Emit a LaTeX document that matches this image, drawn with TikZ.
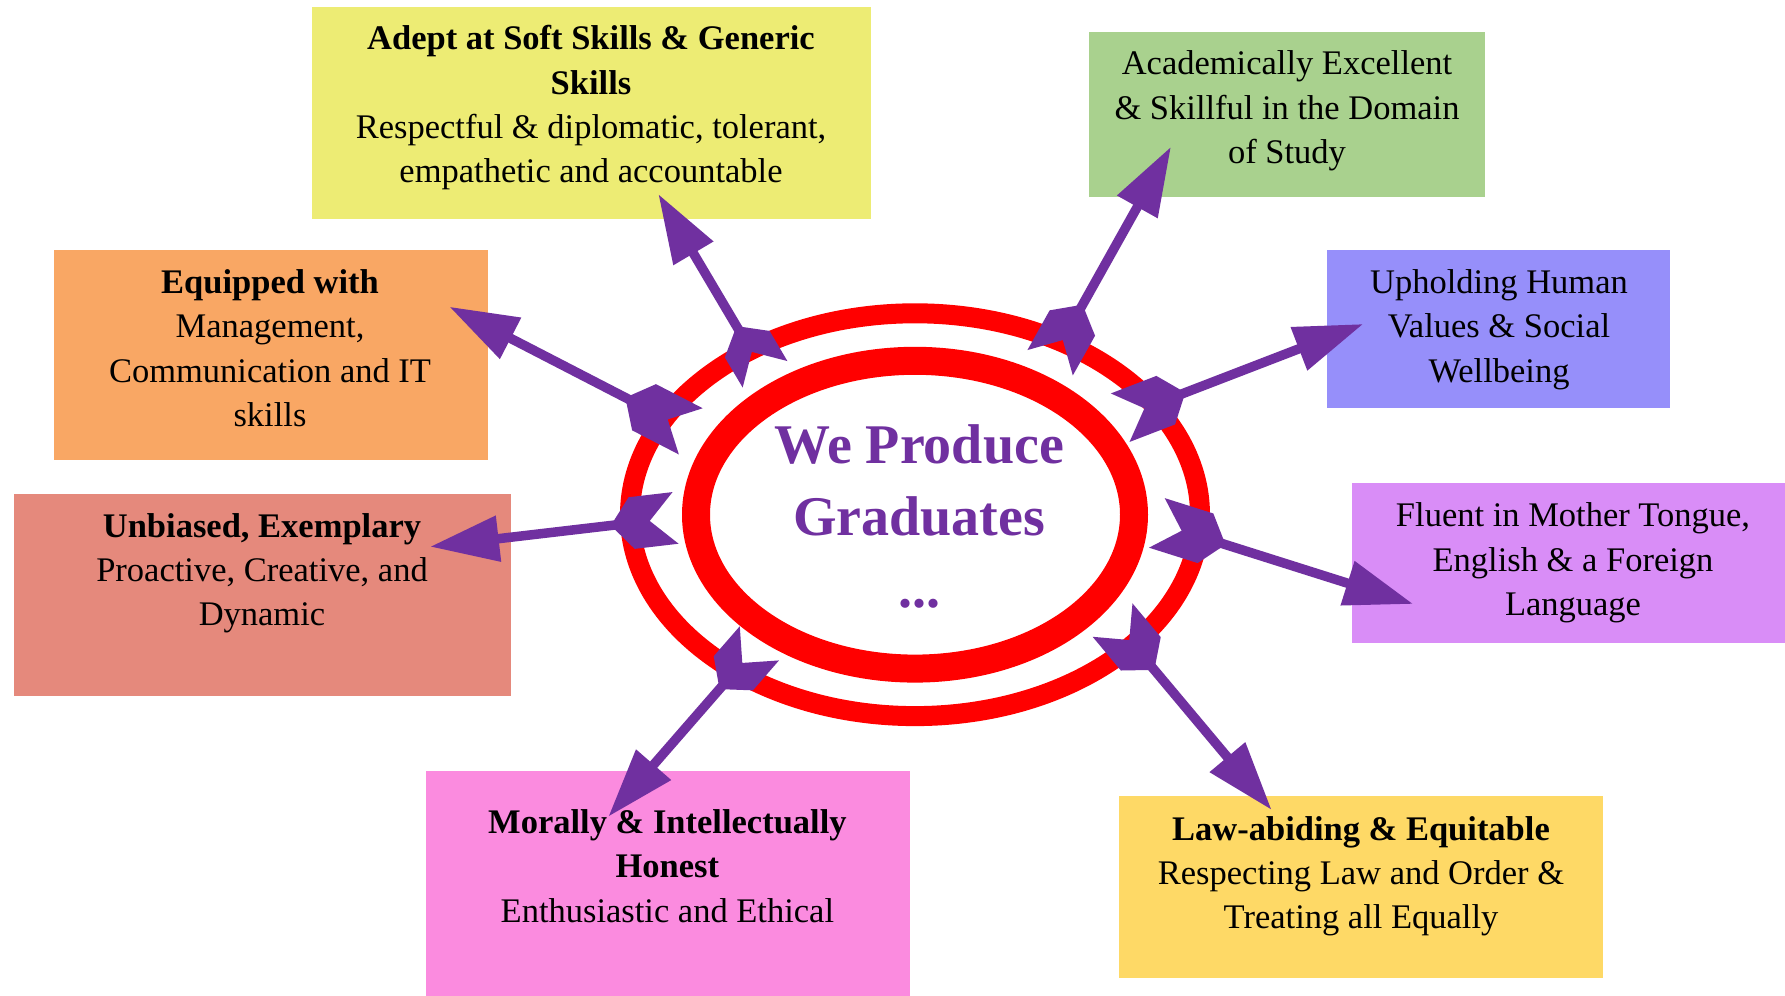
\documentclass[tikz,border=0pt]{standalone}
\usepackage{fontspec}
\setmainfont{Liberation Serif}
\usetikzlibrary{arrows.meta,calc,shapes.geometric}
\definecolor{arrowcol}{HTML}{7030A0}
\definecolor{ringred}{HTML}{FF0000}
\definecolor{cyellow}{HTML}{EDEC74}
\definecolor{cgreen}{HTML}{A9D18E}
\definecolor{corange}{HTML}{F9A764}
\definecolor{cblue}{HTML}{968FFA}
\definecolor{csalmon}{HTML}{E5897C}
\definecolor{cviolet}{HTML}{D98DF7}
\definecolor{cpink}{HTML}{FB8BDF}
\definecolor{cgold}{HTML}{FED966}
\newcommand\blines[1]{\begin{tabular}[t]{@{}c@{}}#1\end{tabular}}
\begin{document}
\begin{tikzpicture}[x=0.5pt,y=-0.5pt,
  box/.style={rectangle, inner sep=0pt, draw=none},
  txt/.style={inner sep=0pt, anchor=base, font=\fontsize{17.25pt}{22.2pt}\selectfont},
  ctxt/.style={inner sep=0pt, anchor=base, text=arrowcol, font=\fontsize{28pt}{36pt}\selectfont\bfseries},
  ring/.style={ellipse, draw=ringred, inner sep=0pt},
  conn/.style={draw=arrowcol, line width=4.75pt, shorten <=-6pt, -{Triangle[length=34.5pt,width=22pt]}},
  tailhead/.pic={\fill[arrowcol] (0,0) -- (21,26) -- ({21+#1},26) -- ({#1-5},0) -- ({21+#1},-26) -- (21,-26) -- cycle;}
]
\useasboundingbox (0,0) rectangle (1785,996);
\fill[white] (0,0) rectangle (1785,996);

% boxes
\node[box, fill=cyellow, minimum width=279.65pt, minimum height=106.25pt] (bsoft) at (591.65,113.05) {};
\node[box, fill=cgreen,  minimum width=198.1pt,  minimum height=82.7pt]   (bacad) at (1287.1,114.6) {};
\node[box, fill=corange, minimum width=217.4pt,  minimum height=105.05pt] (bequip) at (270.9,355.05) {};
\node[box, fill=cblue,   minimum width=171.5pt,  minimum height=79.15pt]  (bhuman) at (1498.2,329.15) {};
\node[box, fill=csalmon, minimum width=248.65pt, minimum height=100.85pt] (bunb) at (262.35,594.85) {};
\node[box, fill=cviolet, minimum width=216.35pt, minimum height=79.9pt]   (bfluent) at (1568.65,562.8) {};
\node[box, fill=cpink,   minimum width=242pt,    minimum height=112.5pt]  (bmoral) at (668,883.5) {};
\node[box, fill=cgold,   minimum width=241.6pt,  minimum height=91.2pt]   (blaw) at (1360.9,887.2) {};

% box texts
\node[txt] (tsoft) at (591,49.6) {\blines{\textbf{Adept at Soft Skills \& Generic}\\ \textbf{Skills}\\ Respectful \& diplomatic, tolerant,\\ empathetic and accountable}};
\node[txt] (tacad) at (1287,74.6) {\blines{Academically Excellent\\ \& Skillful in the Domain\\ of Study}};
\node[txt] (tequip) at (270,293.3) {\blines{\textbf{Equipped with}\\ Management,\\ Communication and IT\\ skills}};
\node[txt] (thuman) at (1499,293.3) {\blines{Upholding Human\\ Values \& Social\\ Wellbeing}};
\node[txt] (tunb) at (262,537) {\blines{\textbf{Unbiased, Exemplary}\\ Proactive, Creative, and\\ Dynamic}};
\node[txt] (tfluent) at (1573,526.8) {\blines{Fluent in Mother Tongue,\\ English \& a Foreign\\ Language}};
\node[txt] (tmoral) at (667.4,833.2) {\blines{\textbf{Morally \& Intellectually}\\ \textbf{Honest}\\ Enthusiastic and Ethical}};
\node[txt] (tlaw) at (1361,840) {\blines{\textbf{Law-abiding \& Equitable}\\ Respecting Law and Order \&\\ Treating all Equally}};

% central double ellipse
\node[ring, line width=10pt, minimum width=285pt, minimum height=201.4pt] (outer) at (915,514.7) {};
\node[ring, line width=14pt, minimum width=219pt, minimum height=153.9pt] (inner) at (915,514.7) {};
\node[ctxt] (ctext) at (919,463) {\blines{We Produce\\ Graduates\\ ...}};

% connector end points
\coordinate (b1) at (736.5,326.1);  \coordinate (t1) at (658.3,194);
\coordinate (b2) at (1082.6,304.7); \coordinate (t2) at (1171,146.7);
\coordinate (b3) at (625.4,397.6);  \coordinate (t3) at (449.3,306.7);
\coordinate (b4) at (1185.3,392.6); \coordinate (t4) at (1363.3,324);
\coordinate (b5) at (610.8,525.5);  \coordinate (t5) at (430,546.7);
\coordinate (b6) at (1225.5,544.6); \coordinate (t6) at (1413.3,604);
\coordinate (b7) at (719.5,689.1);  \coordinate (t7) at (608.3,816.7);
\coordinate (b8) at (1154.3,669.9); \coordinate (t8) at (1271.7,810);

\foreach \aaa/\bbb/\ccc in {b1/t1/35,b2/t2/45.5,b3/t3/52.6,b4/t4/48.8,b5/t5/44.2,b6/t6/51,b7/t7/39.7,b8/t8/44}{
  \draw[conn] (\aaa) -- (\bbb);
  \path let \p1=($(\aaa)-(\bbb)$), \n1={atan2(\y1,\x1)} in pic[rotate=\n1] at (\aaa) {tailhead=\ccc};
}
\end{tikzpicture}
\end{document}
